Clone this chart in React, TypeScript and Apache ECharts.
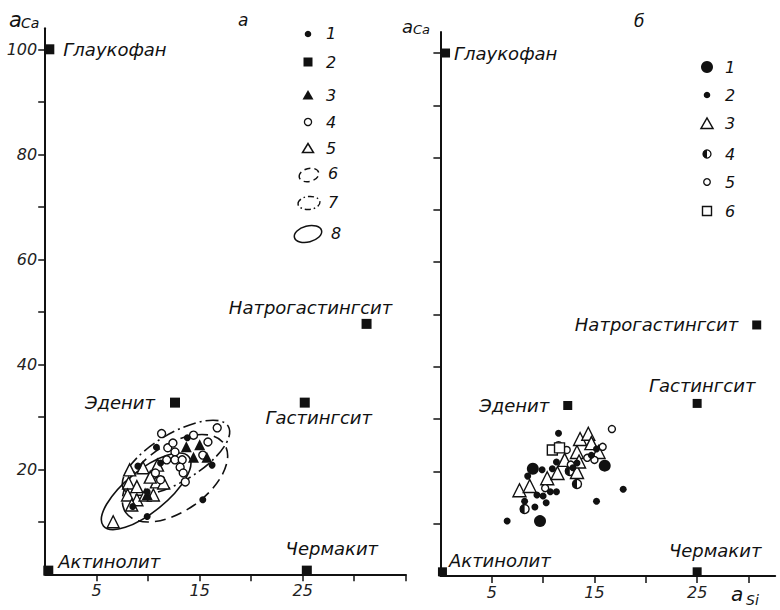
import React, { useEffect, useRef } from 'react';
import * as echarts from 'echarts';

// ---------- data ----------
const END_NAMES = ['Глаукофан', 'Актинолит', 'Эденит', 'Гастингсит', 'Натрогастингсит', 'Чермакит'];
const END_A = [[0.4, 100], [0.3, 0.7], [12.6, 32.7], [25.2, 32.7], [31.2, 47.7], [25.4, 0.7]];
const END_B = [[0.5, 100], [0.2, 0.8], [12.4, 32.6], [25.0, 33.0], [30.8, 48.0], [25.0, 0.8]];

// panel а
const A_FILLED_CIRCLE = [
  [9.0, 20.6], [10.8, 24.2], [11.2, 21.2], [13.8, 26.0], [16.2, 20.8], [15.3, 14.2],
  [9.9, 11.0], [8.5, 12.9], [9.9, 15.7],
];
const A_FILLED_TRIANGLE = [[13.7, 24.3], [15.0, 24.7], [14.4, 22.3], [15.7, 22.3], [9.9, 15.2]];
const A_OPEN_CIRCLE = [
  [11.3, 26.8], [14.4, 26.5], [11.9, 24.1], [12.6, 23.3], [11.8, 21.8], [12.6, 21.8],
  [13.3, 21.8], [13.1, 20.4], [10.7, 19.3], [11.2, 18.0], [13.4, 19.3], [13.6, 17.6],
  [15.8, 25.2], [16.7, 27.9], [15.3, 22.7], [12.4, 25.0],
];
const A_OPEN_TRIANGLE = [
  [6.6, 10.0], [8.2, 19.9], [9.5, 20.3], [10.9, 20.8], [8.1, 17.4], [8.9, 16.7],
  [8.0, 15.1], [8.9, 14.2], [9.7, 15.1], [10.5, 15.1], [8.4, 13.2], [10.8, 17.6],
  [11.5, 17.4], [10.2, 18.5],
];
// contour ellipses 6, 7, 8: centres in data units
const ELLIPSE_CENTRES = [[12.6, 18.3], [12.7, 22.2], [9.8, 15.8]];

// panel б
const B_BIG_FILLED = [[9.0, 20.5], [9.7, 10.5], [16.0, 21.1]];
const B_SMALL_FILLED = [
  [11.5, 27.3], [6.5, 10.5], [8.2, 14.3], [9.2, 13.2], [10.3, 14.0], [8.5, 19.1],
  [9.9, 20.3], [10.9, 20.5], [11.3, 21.8], [9.4, 15.5], [10.0, 15.3], [10.7, 16.1],
  [11.3, 16.1], [15.2, 14.3], [17.8, 16.6], [12.9, 20.7], [15.2, 24.3], [14.7, 23.1],
  [13.3, 21.6],
];
const B_OPEN_TRIANGLE = [
  [7.7, 16.4], [8.7, 17.2], [10.4, 18.7], [11.4, 19.7], [12.1, 22.2], [13.3, 23.7],
  [13.6, 26.2], [14.4, 27.2], [14.7, 25.4], [15.4, 23.7], [13.3, 19.9], [13.5, 21.9],
];
const B_HALF = [[8.2, 12.8], [13.3, 17.6], [12.6, 20.1]];
const B_OPEN_CIRCLE = [
  [16.7, 28.1], [11.5, 25.0], [12.3, 24.1], [15.8, 24.7], [14.3, 22.6], [15.0, 22.2],
  [10.2, 16.8], [12.7, 21.3],
];
const B_OPEN_SQUARE = [[10.9, 24.1], [11.6, 24.5]];

const X_TICKS_A = [5, 10, 15, 20, 25, 30, 35];
const X_TICKS_B = [5, 10, 15, 20, 25, 30];
const X_LABELS = [5, 15, 25];
const Y_TICKS = [10, 20, 30, 40, 50, 60, 70, 80, 90, 100];
const Y_LABELS = [20, 40, 60, 80, 100];

// ---------- styles ----------
const INK = '#111';
const FONT = 'DejaVu Sans';
const ELLIPSE_STYLE = [
  { rx: 60, ry: 33, angle: 35, dash: [11, 6] },
  { rx: 61, ry: 24, angle: 31, dash: [13, 4, 2, 4] },
  { rx: 55, ry: 21, angle: 39, dash: null as any },
];
const LABEL_A = [
  { position: 'right', distance: 9 },
  { position: 'right', distance: 5, offset: [0, -9] },
  { position: 'left', distance: 15 },
  { position: 'bottom', distance: 1, offset: [14, 0] },
  { position: 'top', distance: 2, offset: [-56, 0] },
  { position: 'top', distance: 8, offset: [25, 0] },
];
const LABEL_B = [
  { position: 'right', distance: 4 },
  { position: 'right', distance: 2, offset: [0, -11] },
  { position: 'left', distance: 14 },
  { position: 'top', distance: 4, offset: [5, 0] },
  { position: 'left', distance: 14 },
  { position: 'top', distance: 8, offset: [18, 0] },
];

const txt = (x: number, y: number, text: string, size = 16, align = 'left') => ({
  type: 'text',
  x,
  y,
  style: {
    text,
    font: `italic ${size}px "${FONT}"`,
    fontSize: size,
    fontStyle: 'italic',
    fontFamily: FONT,
    fill: INK,
    align,
    textAlign: align,
    verticalAlign: 'middle',
    textVerticalAlign: 'middle',
  },
});

function App() {
  const ref = useRef<HTMLDivElement>(null);
  useEffect(() => {
    if (!ref.current) return;
    const chart = echarts.init(ref.current, null, { renderer: 'svg' });

    const axisCommon = {
      type: 'value',
      axisLine: { show: true, onZero: false, lineStyle: { color: INK, width: 2 } },
      splitLine: { show: false },
      axisTick: { show: true, length: 7, lineStyle: { color: INK, width: 1.5 } },
      axisLabel: {
        color: '#222',
        fontSize: 16,
        fontStyle: 'italic',
        fontFamily: FONT,
        margin: 8,
        hideOverlap: false,
      },
    };
    const xAxis = (gi: number, max: number, ticks: number[]) => ({
      ...axisCommon,
      gridIndex: gi,
      min: 0,
      max,
      axisTick: { ...axisCommon.axisTick, customValues: ticks },
      axisLabel: { ...axisCommon.axisLabel, customValues: X_LABELS },
    });
    const yAxis = (gi: number, showLabels: boolean) => ({
      ...axisCommon,
      gridIndex: gi,
      min: 0,
      max: 104,
      axisTick: { ...axisCommon.axisTick, customValues: Y_TICKS },
      axisLabel: { ...axisCommon.axisLabel, show: showLabels, customValues: Y_LABELS },
    });

    const scatter = (
      gi: number,
      data: number[][],
      symbol: string,
      size: number,
      filled: boolean,
      z = 3
    ) => ({
      type: 'scatter',
      xAxisIndex: gi,
      yAxisIndex: gi,
      data,
      symbol,
      symbolSize: size,
      z,
      clip: false,
      itemStyle: filled
        ? { color: INK, borderWidth: 0, opacity: 1 }
        : { color: '#fff', borderColor: INK, borderWidth: 1.4, opacity: 1 },
      emphasis: { disabled: true },
    });

    const ends = (gi: number, data: number[][], labels: any[], size: number) => ({
      type: 'scatter',
      xAxisIndex: gi,
      yAxisIndex: gi,
      symbol: 'rect',
      symbolSize: size,
      clip: false,
      z: 5,
      itemStyle: { color: INK, opacity: 1 },
      emphasis: { disabled: true },
      data: data.map((v, i) => ({
        value: v,
        name: END_NAMES[i],
        label: {
          show: true,
          formatter: '{b}',
          color: INK,
          opacity: 1,
          fontSize: 18,
          fontStyle: 'italic',
          fontFamily: FONT,
          ...labels[i],
        },
      })),
    });

    const option: any = {
      animation: false,
      backgroundColor: '#fff',
      grid: [
        { left: 45.2, top: 28.3, width: 360.5, height: 546, outerBoundsMode: 'none', containLabel: false },
        { left: 440.4, top: 32.1, width: 334.8, height: 543.9, outerBoundsMode: 'none', containLabel: false },
      ],
      xAxis: [xAxis(0, 35, X_TICKS_A), xAxis(1, 32.6, X_TICKS_B)],
      yAxis: [yAxis(0, true), yAxis(1, false)],
      series: [
        {
          type: 'custom',
          xAxisIndex: 0,
          yAxisIndex: 0,
          z: 1,
          clip: false,
          data: ELLIPSE_CENTRES,
          renderItem: (params: any, api: any) => {
            const c = api.coord([api.value(0), api.value(1)]);
            const e = ELLIPSE_STYLE[params.dataIndex];
            return {
              type: 'ellipse',
              x: c[0],
              y: c[1],
              rotation: (e.angle * Math.PI) / 180,
              shape: { cx: 0, cy: 0, rx: e.rx, ry: e.ry },
              style: { fill: 'none', stroke: INK, lineWidth: 1.6, lineDash: e.dash || undefined },
            };
          },
        },
        scatter(0, A_OPEN_TRIANGLE, 'triangle', 12, false),
        scatter(0, A_OPEN_CIRCLE, 'circle', 8, false),
        scatter(0, A_FILLED_TRIANGLE, 'triangle', 11, true),
        scatter(0, A_FILLED_CIRCLE, 'circle', 7, true),
        ends(0, END_A, LABEL_A, 10),

        scatter(1, B_OPEN_TRIANGLE, 'triangle', 13, false),
        scatter(1, B_OPEN_CIRCLE, 'circle', 7, false),
        scatter(1, B_OPEN_SQUARE, 'rect', 10, false),
        {
          type: 'custom',
          xAxisIndex: 1,
          yAxisIndex: 1,
          z: 3,
          data: B_HALF,
          renderItem: (params: any, api: any) => {
            const c = api.coord([api.value(0), api.value(1)]);
            return {
              type: 'group',
              children: [
                { type: 'circle', shape: { cx: c[0], cy: c[1], r: 4.5 }, style: { fill: '#fff', stroke: INK, lineWidth: 1.4 } },
                {
                  type: 'sector',
                  shape: { cx: c[0], cy: c[1], r0: 0, r: 4.5, startAngle: Math.PI / 2, endAngle: (3 * Math.PI) / 2 },
                  style: { fill: INK },
                },
              ],
            };
          },
        },
        scatter(1, B_SMALL_FILLED, 'circle', 7, true),
        scatter(1, B_BIG_FILLED, 'circle', 12, true),
        ends(1, END_B, LABEL_B, 9),
      ],
      graphic: [
        // axis titles and panel letters
        txt(9, 20, 'a', 21),
        txt(21, 23, 'Ca', 14),
        txt(402, 26, 'a', 18),
        txt(413, 29, 'Ca', 13),
        txt(731, 594, 'a', 20),
        txt(746, 600, 'Si', 14),
        txt(238, 20, 'а', 17),
        txt(634, 21, 'б', 17),

        // legend а
        { type: 'circle', shape: { cx: 308, cy: 34, r: 3.3 }, style: { fill: INK } },
        { type: 'rect', shape: { x: 303.5, y: 57.5, width: 9, height: 9 }, style: { fill: INK } },
        { type: 'polygon', shape: { points: [[302.5, 99.5], [313.5, 99.5], [308, 90]] }, style: { fill: INK } },
        { type: 'circle', shape: { cx: 308, cy: 122, r: 3.6 }, style: { fill: '#fff', stroke: INK, lineWidth: 1.3 } },
        { type: 'polygon', shape: { points: [[302.5, 152.5], [313.5, 152.5], [308, 143.5]] }, style: { fill: '#fff', stroke: INK, lineWidth: 1.5 } },
        { type: 'ellipse', x: 309, y: 175, rotation: 0.25, shape: { cx: 0, cy: 0, rx: 10, ry: 6.5 }, style: { fill: 'none', stroke: INK, lineWidth: 1.4, lineDash: [6, 4] } },
        { type: 'ellipse', x: 309, y: 203, rotation: 0.1, shape: { cx: 0, cy: 0, rx: 11, ry: 6.5 }, style: { fill: 'none', stroke: INK, lineWidth: 1.4, lineDash: [6, 3, 1.5, 3] } },
        { type: 'ellipse', x: 308, y: 234, rotation: 0.25, shape: { cx: 0, cy: 0, rx: 14, ry: 8 }, style: { fill: 'none', stroke: INK, lineWidth: 1.5 } },
        txt(326, 33, '1'),
        txt(326, 62, '2'),
        txt(326, 95, '3'),
        txt(326, 122, '4'),
        txt(326, 148, '5'),
        txt(328, 173, '6'),
        txt(328, 202, '7'),
        txt(331, 233, '8'),

        // legend б
        { type: 'circle', shape: { cx: 707, cy: 67, r: 6 }, style: { fill: INK } },
        { type: 'circle', shape: { cx: 707, cy: 95, r: 3.3 }, style: { fill: INK } },
        { type: 'polygon', shape: { points: [[701, 128.5], [713, 128.5], [707, 118]] }, style: { fill: '#fff', stroke: INK, lineWidth: 1.5 } },
        { type: 'circle', shape: { cx: 707, cy: 154, r: 4 }, style: { fill: '#fff', stroke: INK, lineWidth: 1.3 } },
        { type: 'sector', shape: { cx: 707, cy: 154, r0: 0, r: 4, startAngle: Math.PI / 2, endAngle: (3 * Math.PI) / 2 }, style: { fill: INK } },
        { type: 'circle', shape: { cx: 707, cy: 182, r: 3.3 }, style: { fill: '#fff', stroke: INK, lineWidth: 1.3 } },
        { type: 'rect', shape: { x: 702.5, y: 206.5, width: 9, height: 9 }, style: { fill: '#fff', stroke: INK, lineWidth: 1.4 } },
        txt(725, 67, '1'),
        txt(725, 95, '2'),
        txt(725, 123, '3'),
        txt(725, 154, '4'),
        txt(725, 182, '5'),
        txt(725, 211, '6'),
      ],
    };
    chart.setOption(option);
    return () => chart.dispose();
  }, []);
  return <div ref={ref} style={{ position: 'fixed', left: 0, top: 0, width: 780, height: 610 }} />;
}

export default App;
